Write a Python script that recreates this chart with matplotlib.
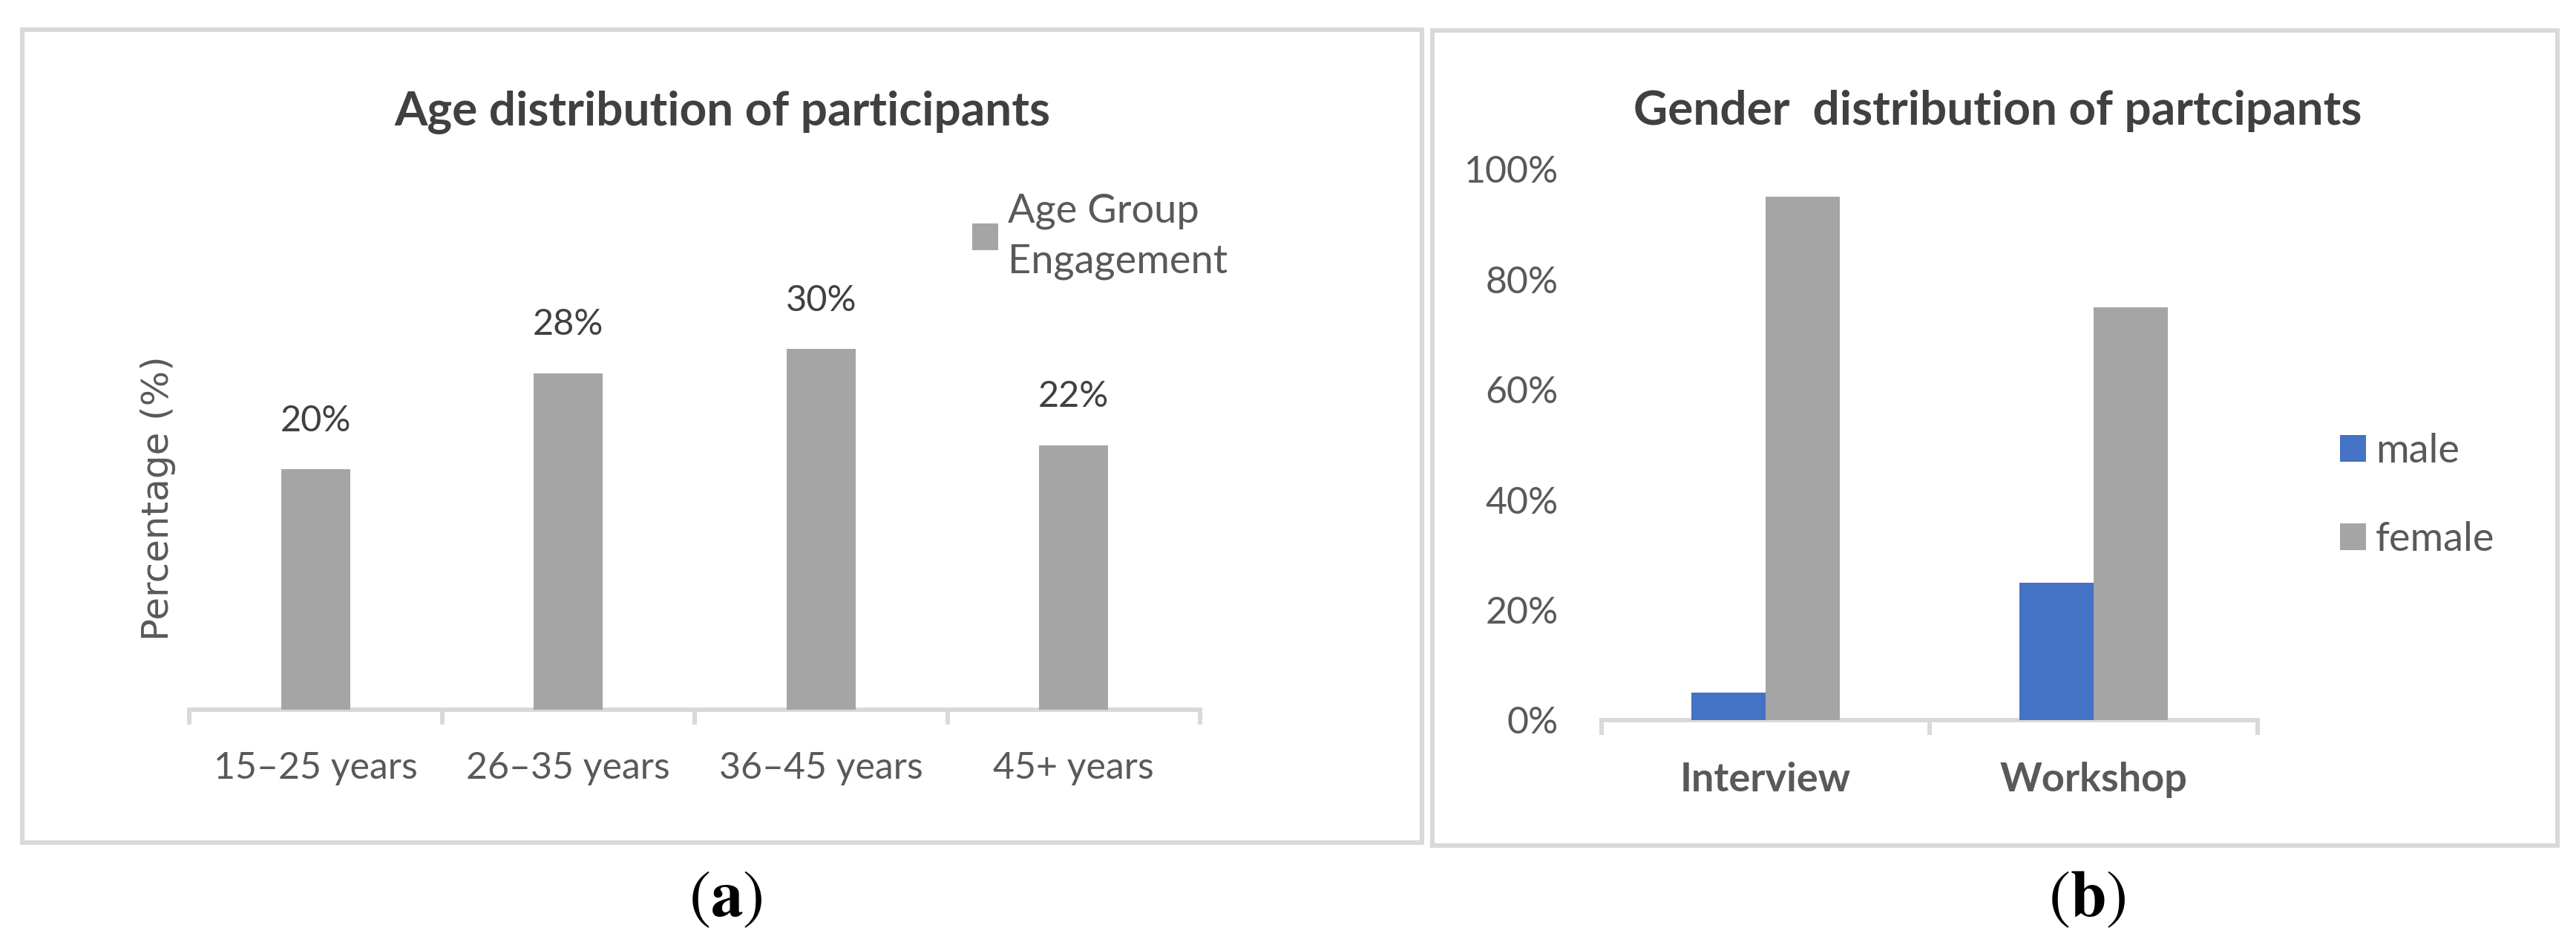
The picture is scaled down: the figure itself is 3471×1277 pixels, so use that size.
import matplotlib
matplotlib.use("Agg")
import matplotlib.pyplot as plt
import numpy as np
from matplotlib.patches import Rectangle

plt.rcParams['font.family'] = ['Lato', 'DejaVu Sans']
plt.rcParams['mathtext.fontset'] = 'stix'

# data
age_groups = ['15–25 years', '26–35 years', '36–45 years', '45+ years']
age_share = [20, 28, 30, 22]

sessions = ['Interview', 'Workshop']
male = [5, 25]
female = [95, 75]

GRAY = '#A5A5A5'
BLUE = '#4472C4'
LINE = '#D9D9D9'
TXT = '#595959'
DARK = '#404040'

W, H = 3471, 1277
fig = plt.figure(figsize=(W / 100, H / 100), dpi=100)


def box(x0, y0, x1, y1):
    # pixel box (top-left origin) -> figure fraction rect
    return [x0 / W, 1 - y1 / H, (x1 - x0) / W, (y1 - y0) / H]


# panel frames
for x0, y0, x1, y1 in [(30, 40, 1916, 1135), (1930, 41, 3446, 1139)]:
    fig.patches.append(Rectangle((x0 / W, 1 - y1 / H), (x1 - x0) / W, (y1 - y0) / H,
                                 transform=fig.transFigure, fill=False,
                                 edgecolor=LINE, linewidth=4.3))

# ---- (a) age distribution ----
ax1 = fig.add_axes(box(255, 373, 1617, 956))
x = np.arange(len(age_groups))
ax1.bar(x, age_share, width=0.274, color=GRAY, label='Age Group\nEngagement', zorder=3)
for xi, v in zip(x, age_share):
    ax1.annotate(f'{v}%', (xi, v), xytext=(0, 37), textcoords='offset points',
                 ha='center', va='baseline', fontsize=35, color=DARK)
ax1.set_xlim(-0.5, len(age_groups) - 0.5)
ax1.set_ylim(0, 36)
ax1.set_xticks(x)
ax1.set_xticklabels(age_groups)
ax1.set_xticks(np.arange(len(age_groups) + 1) - 0.5, minor=True)
ax1.tick_params(axis='x', which='major', length=0, pad=40, labelsize=36, labelcolor=TXT)
ax1.tick_params(axis='x', which='minor', length=14.4, width=4.3, color=LINE)
ax1.set_yticks([])
for s in ['top', 'right', 'left']:
    ax1.spines[s].set_visible(False)
ax1.spines['bottom'].set_color(LINE)
ax1.spines['bottom'].set_linewidth(4.3)
ax1.set_ylabel('Percentage (%)', family='DejaVu Sans', fontsize=36, color=TXT, va='center')
ax1.yaxis.set_label_coords((213 - 255) / 1362, (956 - 671) / 583)
fig.text(973 / W, 1 - 168 / H, 'Age distribution of participants', ha='center', va='baseline',
         fontsize=46, fontweight='bold', color=DARK)
leg1 = ax1.legend(loc='upper left', bbox_to_anchor=(1310 / W, 1 - 260 / H),
                  bbox_transform=fig.transFigure, frameon=False, fontsize=39, labelcolor=TXT,
                  handlelength=0.64, handleheight=0.64, handletextpad=0.25,
                  borderpad=0, borderaxespad=0)
for t in leg1.get_texts():
    t.set_linespacing(1.45)

# ---- (b) gender distribution ----
ax2 = fig.add_axes(box(2158, 228, 3042, 970))
xs = np.arange(len(sessions))
bw = 0.226
ax2.bar(xs - bw / 2, male, width=bw, color=BLUE, label='male', zorder=3)
ax2.bar(xs + bw / 2, female, width=bw, color=GRAY, label='female', zorder=3)
ax2.set_xlim(-0.5, len(sessions) - 0.5)
ax2.set_ylim(0, 100)
ax2.set_yticks(np.arange(0, 101, 20))
ax2.set_yticklabels([f'{v}%' for v in range(0, 101, 20)])
ax2.tick_params(axis='y', length=0, pad=42, labelsize=36, labelcolor=TXT)
ax2.set_xticks(xs)
ax2.set_xticklabels(sessions, fontweight='bold')
ax2.set_xticks(np.arange(len(sessions) + 1) - 0.5, minor=True)
ax2.tick_params(axis='x', which='major', length=0, pad=40, labelsize=39, labelcolor=TXT)
ax2.tick_params(axis='x', which='minor', length=14.4, width=4.3, color=LINE)
for s in ['top', 'right', 'left']:
    ax2.spines[s].set_visible(False)
ax2.spines['bottom'].set_color(LINE)
ax2.spines['bottom'].set_linewidth(4.3)
fig.text(2692 / W, 1 - 168 / H, 'Gender  distribution of partcipants', ha='center', va='baseline',
         fontsize=46, fontweight='bold', color=DARK)
ax2.legend(loc='upper left', bbox_to_anchor=(3153 / W, 1 - 583 / H), bbox_transform=fig.transFigure,
           frameon=False, fontsize=39, labelcolor=TXT, handlelength=0.64, handleheight=0.64,
           handletextpad=0.25, labelspacing=1.3, borderpad=0, borderaxespad=0)

# panel letters
fig.text(978 / W, 1 - 1213 / H, r'($\mathbf{a}$)', ha='center', va='center', fontsize=63,
         family='STIXGeneral', color='black')
fig.text(2812 / W, 1 - 1213 / H, r'($\mathbf{b}$)', ha='center', va='center', fontsize=63,
         family='STIXGeneral', color='black')

fig.savefig('out.png', dpi=100, facecolor='white')
